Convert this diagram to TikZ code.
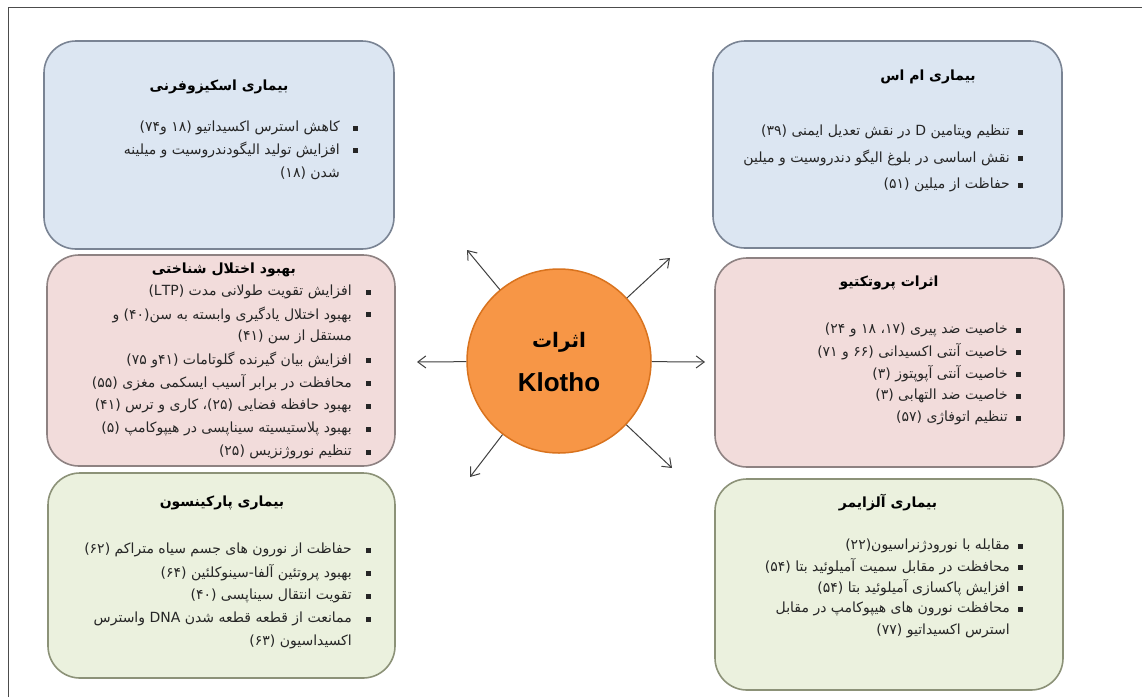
\documentclass[tikz,border=0pt]{standalone}
\usepackage{fontspec}
\usetikzlibrary{arrows.meta}
\TeXXeTstate=1
\newfontfamily\fa[Script=Arabic]{DejaVu Sans}
\newfontfamily\lat{Liberation Sans}
\definecolor{bfill}{HTML}{DCE6F2}
\definecolor{bdraw}{HTML}{7A8494}
\definecolor{pfill}{HTML}{F2DCDB}
\definecolor{pdraw}{HTML}{8E8282}
\definecolor{gfill}{HTML}{EBF1DE}
\definecolor{gdraw}{HTML}{8C9278}
\definecolor{ofill}{HTML}{F79646}
\definecolor{odraw}{HTML}{D9731E}
\definecolor{tcol}{HTML}{262626}
\tikzset{
  rbox/.style={rectangle, rounded corners=32pt, line width=1.6pt, inner sep=0pt},
  bluebox/.style={rbox, draw=bdraw, fill=bfill},
  pinkbox/.style={rbox, draw=pdraw, fill=pfill},
  greenbox/.style={rbox, draw=gdraw, fill=gfill},
  txt/.style={anchor=east, inner sep=0pt, text=tcol, font=\fa\fontsize{14}{16}\selectfont},
  ttl/.style={inner sep=0pt, text=black, font=\fa\bfseries\fontsize{14}{17}\selectfont},
  bul/.style={rectangle, fill=black!85, minimum size=5pt, inner sep=0pt},
  arr/.style={draw=black!75, line width=1pt, -{Straight Barb[length=8pt,width=12pt]}},
  frm/.style={draw=black!70, line width=1pt}
}
\begin{document}
\begin{tikzpicture}[x=1pt,y=-1pt]
\useasboundingbox (0,0) rectangle (1142,697);
\fill[white] (0,0) rectangle (1142,697);
\draw[frm] (8,697) -- (8,7) -- (1142,7);

% boxes
\node[bluebox, minimum width=350pt, minimum height=208pt] (b1) at (219,145) {};
\node[pinkbox, minimum width=348pt, minimum height=211pt] (b2) at (221,360.5) {};
\node[greenbox, minimum width=347pt, minimum height=205pt] (b3) at (221.5,575.5) {};
\node[bluebox, minimum width=349pt, minimum height=207pt] (b4) at (887.5,144.5) {};
\node[pinkbox, minimum width=349pt, minimum height=209pt] (b5) at (889.5,362.5) {};
\node[greenbox, minimum width=348pt, minimum height=211pt] (b6) at (889,584.5) {};

% center
\node[circle, minimum size=184pt, inner sep=0pt, fill=ofill, draw=odraw, line width=1.5pt] (k) at (559,361) {};
\node[inner sep=0pt, font=\fa\bfseries\fontsize{20}{24}\selectfont] (kt1) at (559,342) {\beginR اثرات\endR};
\node[inner sep=0pt, font=\lat\bfseries\fontsize{26}{30}\selectfont] (kt2) at (559,382) {Klotho};

% arrows
\coordinate (e1) at (467,250);
\coordinate (e2) at (670,258);
\coordinate (e3) at (417,362);
\coordinate (e4) at (705,362);
\coordinate (e5) at (470,477);
\coordinate (e6) at (672,468);
\foreach \e in {e1,e2,e3,e4,e5,e6} \draw[arr] (k) -- (\e);

% box 1: schizophrenia
\node[ttl] (t1) at (219,87) {\beginR بیماری اسکیزوفرنی\endR};
\node[bul] (s1) at (355,128) {};
\node[txt] (l11) at (340,128) {\beginR کاهش استرس اکسیداتیو (۱۸ و۷۴)\endR};
\node[bul] (s2) at (355,150) {};
\node[txt] (l12) at (340,150) {\beginR افزایش تولید الیگودندروسیت و میلینه\endR};
\node[txt] (l13) at (340,173) {\beginR شدن (۱۸)\endR};

% box 2: cognitive
\node[ttl] (t2) at (224,270) {\beginR بهبود اختلال شناختی\endR};
\node[bul] (c1) at (368,292) {};
\node[txt] (l21) at (352,292) {\beginR افزایش تقویت طولانی مدت \beginL(LTP)\endL\endR};
\node[bul] (c2) at (368,314.5) {};
\node[txt] (l22) at (352,314.5) {\beginR بهبود اختلال یادگیری وابسته به سن(۴۰) و\endR};
\node[txt] (l23) at (352,337) {\beginR مستقل از سن (۴۱)\endR};
\node[bul] (c3) at (368,360) {};
\node[txt] (l24) at (352,360) {\beginR افزایش بیان گیرنده گلوتامات (۴۱و ۷۵)\endR};
\node[bul] (c4) at (368,383) {};
\node[txt] (l25) at (352,383) {\beginR محافظت در برابر آسیب ایسکمی مغزی (۵۵)\endR};
\node[bul] (c5) at (368,406) {};
\node[txt] (l26) at (352,406) {\beginR بهبود حافظه فضایی (۲۵)، کاری و ترس (۴۱)\endR};
\node[bul] (c6) at (368,429) {};
\node[txt] (l27) at (352,429) {\beginR بهبود پلاستیسیته سیناپسی در هیپوکامپ (۵)\endR};
\node[bul] (c7) at (368,452) {};
\node[txt] (l28) at (352,452) {\beginR تنظیم نوروژنزیس (۲۵)\endR};

% box 3: parkinson
\node[ttl] (t3) at (222,503) {\beginR بیماری پارکینسون\endR};
\node[bul] (p1) at (368,550) {};
\node[txt] (l31) at (352,550) {\beginR حفاظت از نورون های جسم سیاه متراکم (۶۲)\endR};
\node[bul] (p2) at (368,573) {};
\node[txt] (l32) at (352,573) {\beginR بهبود پروتئین آلفا-سینوکلئین (۶۴)\endR};
\node[bul] (p3) at (368,596) {};
\node[txt] (l33) at (352,596) {\beginR تقویت انتقال سیناپسی (۴۰)\endR};
\node[bul] (p4) at (368,619) {};
\node[txt] (l34) at (352,619) {\beginR ممانعت از قطعه قطعه شدن \beginL DNA\endL{} واسترس\endR};
\node[txt] (l35) at (352,642) {\beginR اکسیداسیون (۶۳)\endR};

% box 4: MS
\node[ttl] (t4) at (928,77) {\beginR بیماری ام اس\endR};
\node[bul] (m1) at (1020,132) {};
\node[txt] (l41) at (1010,132) {\beginR تنظیم ویتامین \beginL D\endL{} در نقش تعدیل ایمنی (۳۹)\endR};
\node[bul] (m2) at (1020,158) {};
\node[txt] (l42) at (1010,158) {\beginR نقش اساسی در بلوغ الیگو دندروسیت و میلین\endR};
\node[bul] (m3) at (1020,185) {};
\node[txt] (l43) at (1010,185) {\beginR حفاظت از میلین (۵۱)\endR};

% box 5: protective
\node[ttl] (t5) at (889,283) {\beginR اثرات پروتکتیو\endR};
\node[bul] (r1) at (1018,330) {};
\node[txt] (l51) at (1008,330) {\beginR خاصیت ضد پیری (۱۷، ۱۸ و ۲۴)\endR};
\node[bul] (r2) at (1018,352) {};
\node[txt] (l52) at (1008,352) {\beginR خاصیت آنتی اکسیدانی (۶۶ و ۷۱)\endR};
\node[bul] (r3) at (1018,374) {};
\node[txt] (l53) at (1008,374) {\beginR خاصیت آنتی آپوپتوز (۳)\endR};
\node[bul] (r4) at (1018,396) {};
\node[txt] (l54) at (1008,396) {\beginR خاصیت ضد التهابی (۳)\endR};
\node[bul] (r5) at (1018,418) {};
\node[txt] (l55) at (1008,418) {\beginR تنظیم اتوفاژی (۵۷)\endR};

% box 6: alzheimer
\node[ttl] (t6) at (888,503) {\beginR بیماری آلزایمر\endR};
\node[bul] (a1) at (1020,546) {};
\node[txt] (l61) at (1010,546) {\beginR مقابله با نورودژنراسیون(۲۲)\endR};
\node[bul] (a2) at (1020,567) {};
\node[txt] (l62) at (1010,567) {\beginR محافظت در مقابل سمیت آمیلوئید بتا (۵۴)\endR};
\node[bul] (a3) at (1020,588) {};
\node[txt] (l63) at (1010,588) {\beginR افزایش پاکسازی آمیلوئید بتا (۵۴)\endR};
\node[bul] (a4) at (1020,609) {};
\node[txt] (l64) at (1010,609) {\beginR محافظت نورون های هیپوکامپ در مقابل\endR};
\node[txt] (l65) at (1010,631) {\beginR استرس اکسیداتیو (۷۷)\endR};
\end{tikzpicture}
\end{document}
